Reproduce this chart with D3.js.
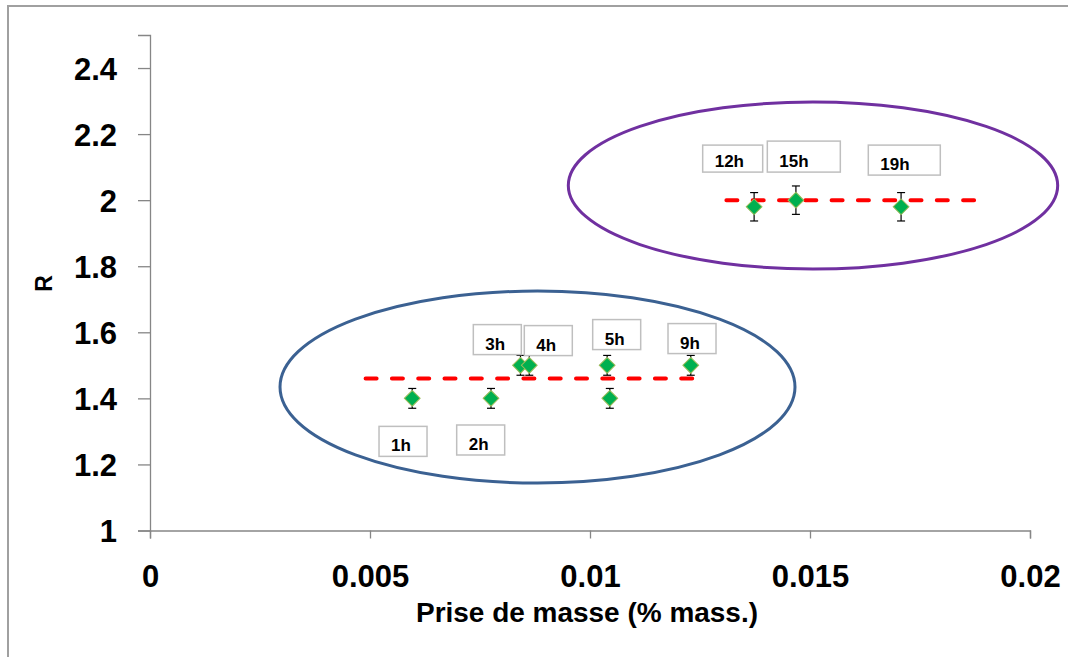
<!DOCTYPE html>
<html>
<head>
<meta charset="utf-8">
<script src="https://cdn.jsdelivr.net/npm/d3@7"></script>
<style>
  html, body { margin: 0; padding: 0; background: #ffffff; }
  svg { display: block; }
  text { font-family: "Liberation Sans", Arial, sans-serif; font-weight: bold; fill: #000; }
</style>
</head>
<body>
<svg id="chart" width="1068" height="657"></svg>
<script>
// ---------------- data ----------------
const pointLabels = ["1h", "2h", "3h", "4h", "5h", "", "9h", "12h", "15h", "19h"];
const massGain    = [0.00596, 0.00775, 0.00842, 0.00862, 0.01039, 0.01045, 0.01229, 0.01373, 0.01468, 0.01707];
const ratioR      = [1.40, 1.40, 1.50, 1.50, 1.50, 1.40, 1.50, 1.98, 2.00, 1.98];
const ratioErr    = [0.03, 0.03, 0.03, 0.03, 0.03, 0.03, 0.03, 0.043, 0.043, 0.043];

const xTickValues = [0, 0.005, 0.01, 0.015, 0.02];
const xTickLabels = ["0", "0.005", "0.01", "0.015", "0.02"];
const yTickValues = [1, 1.2, 1.4, 1.6, 1.8, 2, 2.2, 2.4];
const yTickLabels = ["1", "1.2", "1.4", "1.6", "1.8", "2", "2.2", "2.4"];

// mean R lines for the two groups (dashed red)
const meanStart = [0.0049, 0.0131];
const meanEnd   = [0.0124, 0.0188];
const meanR     = [1.46, 2.00];

// grouping ellipses (data units): centre x, centre R, half-width, half-height
const ellipseCx = [0.008807, 0.015068];
const ellipseCy = [1.4344, 2.0444];
const ellipseRx = [0.005852, 0.005561];
const ellipseRy = [0.2906, 0.2528];

// callout labels: anchor (left, top) in data units
const calloutText = ["1h", "2h", "3h", "4h", "5h", "9h", "12h", "15h", "19h"];
const calloutX    = [0.005205, 0.006970, 0.007348, 0.008507, 0.010061, 0.011773, 0.012561, 0.014030, 0.016325];
const calloutY    = [1.3152, 1.3194, 1.6233, 1.6203, 1.6385, 1.6264, 2.1667, 2.1788, 2.1667];

// ---------------- styles / layout ----------------
const calloutW = [48, 48, 48, 48, 48, 48, 60, 73, 72];
const calloutH = [30, 30, 30, 30, 30, 30, 27, 31, 30];
const ellipseColor = ["#3b6192", "#7030a0"];

const svg = d3.select("#chart");
const W = 1068, H = 657;

// outer frame
svg.append("rect").attr("x", 8).attr("y", 6).attr("width", W + 10).attr("height", H + 10)
  .attr("fill", "#fff").attr("stroke", "#a0a0a0").attr("stroke-width", 2);

const x = d3.scaleLinear().domain([0, 0.02]).range([150, 1030]);
const y = d3.scaleLinear().domain([1, 2.5]).range([530.5, 35]);

// axes
const yAxis = d3.axisLeft(y).tickValues(yTickValues).tickSize(12).tickFormat((d, i) => yTickLabels[i]);
const gy = svg.append("g").attr("transform", `translate(${x(0)},0)`).call(yAxis);
gy.select(".domain").attr("stroke", "#868686").attr("stroke-width", 1.3);
gy.selectAll(".tick line").attr("stroke", "#868686").attr("stroke-width", 1.3);
gy.selectAll(".tick text").attr("x", -33).attr("dy", "0.36em")
  .style("font-size", "31px").style("font-family", "'Liberation Sans', Arial, sans-serif")
  .style("font-weight", "bold").attr("fill", "#000");

const xAxis = d3.axisBottom(x).tickValues(xTickValues).tickSize(8).tickFormat((d, i) => xTickLabels[i]);
const gx = svg.append("g").attr("transform", `translate(0,${y(1)})`).call(xAxis);
gx.select(".domain").attr("stroke", "#868686").attr("stroke-width", 1.3);
gx.selectAll(".tick line").attr("stroke", "#868686").attr("stroke-width", 1.3);
gx.selectAll(".tick text").attr("y", 34).attr("dy", "0.71em")
  .style("font-size", "31px").style("font-family", "'Liberation Sans', Arial, sans-serif")
  .style("font-weight", "bold").attr("fill", "#000");

// axis titles
svg.append("text").attr("x", 587).attr("y", 622).attr("text-anchor", "middle")
  .style("font-size", "27px").attr("textLength", 342).attr("lengthAdjust", "spacingAndGlyphs")
  .text("Prise de masse (% mass.)");
svg.append("text").attr("transform", "translate(51.5,283.5) rotate(-90)").attr("text-anchor", "middle")
  .style("font-size", "23px").text("R");

// ellipses
svg.selectAll(".grp").data(ellipseCx).enter().append("ellipse")
  .attr("class", "grp")
  .attr("cx", d => x(d))
  .attr("cy", (d, i) => y(ellipseCy[i]))
  .attr("rx", (d, i) => x(ellipseRx[i]) - x(0))
  .attr("ry", (d, i) => y(1) - y(1 + ellipseRy[i]))
  .attr("fill", "none")
  .attr("stroke", (d, i) => ellipseColor[i])
  .attr("stroke-width", 3);

// mean dashed lines
svg.selectAll(".mean").data(meanR).enter().append("line")
  .attr("class", "mean")
  .attr("x1", (d, i) => x(meanStart[i])).attr("x2", (d, i) => x(meanEnd[i]))
  .attr("y1", d => y(d)).attr("y2", d => y(d))
  .attr("stroke", "#ff0000").attr("stroke-width", 4)
  .attr("stroke-dasharray", "11,15.3").attr("stroke-linecap", "round");

// error bars
const pts = massGain.map((m, i) => ({ m, r: ratioR[i], e: ratioErr[i], lab: pointLabels[i] }));
const eb = svg.selectAll(".err").data(pts).enter().append("g").attr("class", "err")
  .attr("stroke", "#000").attr("stroke-width", 1.2);
eb.append("line").attr("x1", d => x(d.m)).attr("x2", d => x(d.m))
  .attr("y1", d => y(d.r - d.e)).attr("y2", d => y(d.r + d.e));
eb.append("line").attr("x1", d => x(d.m) - 4).attr("x2", d => x(d.m) + 4)
  .attr("y1", d => y(d.r - d.e)).attr("y2", d => y(d.r - d.e));
eb.append("line").attr("x1", d => x(d.m) - 4).attr("x2", d => x(d.m) + 4)
  .attr("y1", d => y(d.r + d.e)).attr("y2", d => y(d.r + d.e));

// diamond markers
const diamond = d3.symbol().type(d3.symbolSquare).size(124);
svg.selectAll(".pt").data(pts).enter().append("path")
  .attr("class", "pt")
  .attr("d", diamond)
  .attr("transform", d => `translate(${x(d.m)},${y(d.r)}) rotate(45)`)
  .attr("fill", "#00b050").attr("stroke", "#9bbb59").attr("stroke-width", 1);

// callout boxes
const co = svg.selectAll(".callout").data(calloutText).enter().append("g").attr("class", "callout")
  .attr("transform", (d, i) => `translate(${x(calloutX[i])},${y(calloutY[i])})`);
co.append("rect").attr("x", 0).attr("y", 0)
  .attr("width", (d, i) => calloutW[i]).attr("height", (d, i) => calloutH[i])
  .attr("fill", "#fff").attr("stroke", "#bfbfbf").attr("stroke-width", 1.5);
co.append("text").attr("x", 12).attr("y", (d, i) => calloutH[i] - 5)
  .style("font-size", "17px").text(d => d);
</script>
</body>
</html>
